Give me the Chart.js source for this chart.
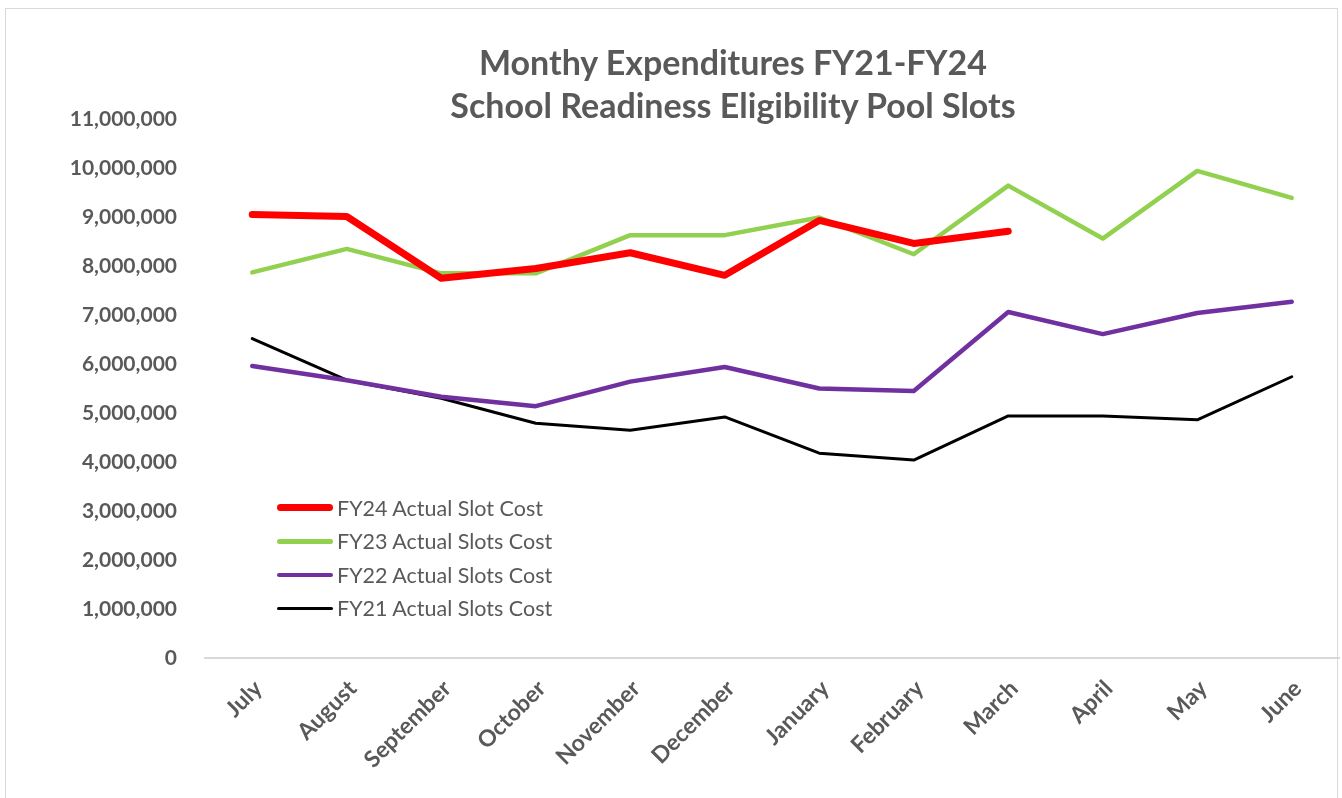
<!DOCTYPE html>
<html>
<head>
<meta charset="utf-8">
<script src="https://cdn.jsdelivr.net/npm/chart.js@4.4.1/dist/chart.umd.min.js"></script>
<style>
  html, body { margin: 0; padding: 0; background: #ffffff; }
  body { width: 1342px; height: 798px; position: relative; overflow: hidden; font-family: Lato, "Open Sans", sans-serif; }
  #frame { position: absolute; left: 5px; top: 8px; width: 1333px; height: 820px; border: 1.5px solid #d9d9d9; box-sizing: border-box; }
  #wrap { position: absolute; left: 0; top: 0; width: 1342px; height: 798px; }
  #title { position: absolute; left: 383px; width: 700px; top: 40px; text-align: center; color: #595959; font-weight: 700; font-size: 34px; line-height: 43px; }
  #legend { position: absolute; left: 277px; top: 491px; color: #595959; font-size: 21.5px; }
  .row { display: flex; align-items: center; height: 33.5px; }
  .swatch { width: 56px; border-radius: 4px; margin-right: 4px; }
</style>
</head>
<body>
<div id="frame"></div>
<div id="wrap"><canvas id="c" width="1342" height="798"></canvas></div>
<div id="title">Monthy Expenditures FY21-FY24<br>School Readiness Eligibility Pool Slots</div>
<div id="legend"></div>
<script>
const months = ["July","August","September","October","November","December","January","February","March","April","May","June"];
const fy24 = [9050000, 9010000, 7750000, 7950000, 8270000, 7810000, 8930000, 8460000, 8710000, null, null, null];
const fy23 = [7870000, 8350000, 7850000, 7850000, 8630000, 8630000, 8990000, 8240000, 9640000, 8560000, 9940000, 9390000];
const fy22 = [5960000, 5670000, 5330000, 5140000, 5640000, 5940000, 5500000, 5450000, 7060000, 6610000, 7040000, 7270000];
const fy21 = [6520000, 5670000, 5300000, 4790000, 4650000, 4920000, 4180000, 4040000, 4940000, 4940000, 4860000, 5740000];
const yTickLabels = ["0","1,000,000","2,000,000","3,000,000","4,000,000","5,000,000","6,000,000","7,000,000","8,000,000","9,000,000","10,000,000","11,000,000"];
const seriesNames = ["FY24 Actual Slot Cost","FY23 Actual Slots Cost","FY22 Actual Slots Cost","FY21 Actual Slots Cost"];

const colors = ["#ff0000", "#92d050", "#7030a0", "#000000"];
const widths = [7, 4.5, 4.5, 3];
const seriesData = [fy24, fy23, fy22, fy21];

const datasets = seriesData.map((d, i) => ({
  label: seriesNames[i],
  data: d,
  borderColor: colors[i],
  backgroundColor: colors[i],
  borderWidth: widths[i],
  pointRadius: 0,
  pointHoverRadius: 0,
  tension: 0,
  fill: false,
  spanGaps: false,
  borderCapStyle: 'round',
  borderJoinStyle: 'round',
  order: i
}));

const tickFont = { family: "Lato, 'Open Sans', sans-serif", weight: 'bold', size: 21 };

new Chart(document.getElementById('c'), {
  type: 'line',
  data: { labels: months, datasets: datasets },
  options: {
    responsive: false,
    animation: false,
    devicePixelRatio: 1,
    layout: { padding: { top: 119, right: 3, left: 0, bottom: 0 } },
    plugins: { legend: { display: false }, title: { display: false }, tooltip: { enabled: false } },
    scales: {
      x: {
        type: 'category',
        offset: true,
        grid: { display: false, drawTicks: false },
        border: { display: true, color: '#d9d9d9', width: 2 },
        ticks: {
          color: '#595959',
          font: { family: "Lato, 'Open Sans', sans-serif", weight: 'bold', size: 23 },
          minRotation: 45, maxRotation: 45,
          autoSkip: false,
          padding: 17,
          labelOffset: 6
        },
        afterFit: (s) => { s.height = 140; }
      },
      y: {
        min: 0, max: 11000000,
        grid: { display: false, drawTicks: false },
        border: { display: false },
        ticks: {
          stepSize: 1000000,
          color: '#595959',
          font: tickFont,
          padding: 28,
          callback: (v, idx) => yTickLabels[idx]
        },
        afterFit: (s) => { s.width = 205; }
      }
    }
  }
});

const legend = document.getElementById('legend');
seriesNames.forEach((n, i) => {
  const row = document.createElement('div');
  row.className = 'row';
  const sw = document.createElement('div');
  sw.className = 'swatch';
  sw.style.height = (i === 0 ? 7 : i === 3 ? 3.5 : 4.5) + 'px';
  sw.style.background = colors[i];
  const t = document.createElement('span');
  t.textContent = n;
  row.appendChild(sw); row.appendChild(t);
  legend.appendChild(row);
});
</script>
</body>
</html>
